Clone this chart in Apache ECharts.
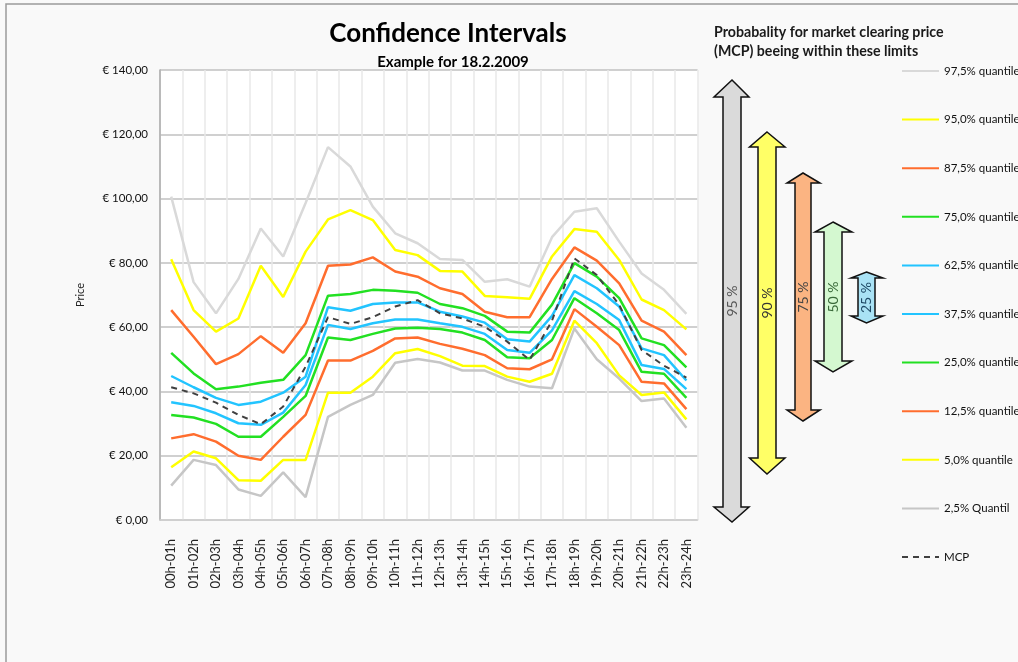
<!DOCTYPE html>
<html>
<head>
<meta charset="utf-8">
<script src="https://cdn.jsdelivr.net/npm/echarts@6/dist/echarts.min.js"></script>
<style>
html,body{margin:0;padding:0;background:#f9f9f9;}
#chart{width:1018px;height:662px;}
</style>
</head>
<body>
<div id="chart"></div>
<script>
// ---- data ----
const hours = ['00h-01h','01h-02h','02h-03h','03h-04h','04h-05h','05h-06h','06h-07h','07h-08h','08h-09h','09h-10h','10h-11h','11h-12h','12h-13h','13h-14h','14h-15h','15h-16h','16h-17h','17h-18h','18h-19h','19h-20h','20h-21h','21h-22h','22h-23h','23h-24h'];
const yTicks = [0, 20, 40, 60, 80, 100, 120, 140];
const q975 = [100.6, 74, 64.3, 75, 90.7, 82, 98.6, 116, 110, 97.5, 89.2, 86.1, 81.2, 80.9, 74.1, 74.9, 72.6, 88, 95.9, 97, 86.6, 76.7, 71.6, 64.1];
const q950 = [81.1, 65.3, 58.6, 62.7, 79.1, 69.4, 83.5, 93.5, 96.4, 93.3, 84, 82.4, 77.5, 77.3, 69.7, 69.3, 68.8, 82, 90.5, 89.7, 80.9, 68.6, 65.3, 59.3];
const q875 = [65.3, 57, 48.5, 51.6, 57.2, 52, 61.2, 79.1, 79.5, 81.7, 77.3, 75.7, 72.1, 70.3, 64.8, 63.1, 63.1, 75, 84.8, 80.7, 73.6, 62, 58.6, 51.3];
const q750 = [52, 45.6, 40.7, 41.5, 42.7, 43.6, 51.3, 69.8, 70.3, 71.6, 71.3, 70.7, 67.2, 65.9, 63.5, 58.6, 58.3, 67, 79.9, 75.7, 69, 56.5, 54.4, 47.5];
const q625 = [44.8, 41.3, 38, 35.8, 36.8, 39.6, 44.6, 66.2, 65.1, 67.2, 67.7, 67.7, 64.8, 63.3, 61.4, 56.2, 55.5, 63.5, 76.2, 72.1, 66.4, 53.4, 51.3, 43.4];
const q375 = [36.6, 35.5, 33.2, 30.1, 29.6, 33.4, 42, 60.7, 59.4, 61.2, 62.4, 62.4, 61.2, 60.1, 57.9, 52.9, 52, 59, 71.2, 67.2, 62.2, 48.2, 47, 40.7];
const q250 = [32.7, 31.9, 29.9, 25.9, 25.9, 32.1, 38.6, 56.8, 56, 57.9, 59.6, 59.8, 59.4, 58.3, 56, 50.6, 50.3, 56, 69, 64.3, 59.1, 46.1, 45.5, 38];
const q125 = [25.4, 26.7, 24.4, 20, 18.7, 25.9, 32.7, 49.6, 49.6, 52.6, 56.5, 56.8, 54.8, 53.3, 51.3, 47.2, 46.9, 50, 65.6, 60.1, 54.4, 43, 42.5, 34.5];
const q050 = [16.4, 21.3, 19.2, 12.4, 12.2, 18.7, 18.7, 39.6, 39.6, 44.6, 51.9, 53.2, 51, 48, 47.9, 44.6, 43, 45.5, 62, 55, 45, 38.9, 39.7, 31.3];
const q025 = [10.7, 18.7, 17.1, 9.5, 7.5, 14.8, 7.1, 32.1, 35.8, 38.9, 48.9, 50.1, 49, 46.5, 46.5, 43.6, 41.5, 41, 59.6, 50, 44, 37, 37.8, 28.7];
const mcp  = [41.3, 39.4, 36.5, 32.7, 29.8, 35.3, 47.7, 63.1, 61, 63.1, 66.4, 68.4, 64.3, 62.7, 60.1, 55.5, 49.8, 62, 81.4, 76.2, 66.9, 52.9, 48, 44.3];

const seriesNames = ['97,5% quantile','95,0% quantile','87,5% quantile','75,0% quantile','62,5% quantile','37,5% quantile','25,0% quantile','12,5% quantile','5,0% quantile','2,5% Quantil','MCP'];
const seriesData = [q975, q950, q875, q750, q625, q375, q250, q125, q050, q025, mcp];
const seriesColors = ['#d9d9d9','#ffff00','#ff6d2e','#22e022','#22c4ff','#22c4ff','#22e022','#ff6d2e','#ffff00','#c6c6c6','#404040'];

const arrowLabels = ['95 %','90 %','75 %','50 %','25 %'];

// ---- layout helpers (decoration) ----
const FONT = 'Lato, "Noto Sans", sans-serif';
function dblArrow(x0, x1, h0, h1, yT, yTb, yBb, yB, fill) {
  const cx = (x0 + x1) / 2;
  return {
    type: 'polygon',
    shape: { points: [[cx, yT],[h1, yTb],[x1, yTb],[x1, yBb],[h1, yBb],[cx, yB],[h0, yBb],[x0, yBb],[x0, yTb],[h0, yTb]] },
    style: { fill: fill, stroke: '#111', lineWidth: 1.5 },
    z: 10
  };
}
function vLabel(text, x, y, color) {
  return {
    type: 'text', x: x, y: y, rotation: Math.PI / 2, z: 11,
    style: { text: text, x: 0, y: 0, align: 'center', verticalAlign: 'middle', font: '14px ' + FONT, fill: color }
  };
}
const arrowDefs = [
  [723, 741, 714, 749, 80, 97, 507, 522, '#dadada', '#555'],
  [758, 776, 749.5, 785, 132, 147, 458, 474, '#ffff66', '#333'],
  [795, 811, 787, 820, 173, 183, 410, 421, '#fbb482', '#444'],
  [824, 842, 815, 852, 222, 232, 361, 372, '#d4f8d0', '#3a6a3a'],
  [858, 875, 851, 883, 272, 278, 316, 323, '#a9e2f5', '#1f4a66']
];
const graphics = [
  { type: 'rect', shape: { x: 6, y: 4, width: 1100, height: 700 }, style: { fill: 'none', stroke: '#9a9a9a', lineWidth: 1.5 }, z: 0, silent: true },
  { type: 'text', x: 714, y: 25, style: { text: 'Probabality for market clearing price', font: 'bold 14.2px ' + FONT, fill: '#1a1a1a' } },
  { type: 'text', x: 714, y: 44, style: { text: '(MCP) beeing within these limits', font: 'bold 14.2px ' + FONT, fill: '#1a1a1a' } }
];
arrowDefs.forEach((a, i) => {
  graphics.push(dblArrow(a[0], a[1], a[2], a[3], a[4], a[5], a[6], a[7], a[8]));
  graphics.push(vLabel(arrowLabels[i], (a[0] + a[1]) / 2, (a[4] + a[7]) / 2, a[9]));
});

const chart = echarts.init(document.getElementById('chart'), null, { renderer: 'canvas' });
chart.setOption({
  animation: false,
  backgroundColor: '#f9f9f9',
  title: [
    { text: 'Confidence Intervals', left: 443, top: 16, textAlign: 'center',
      textStyle: { fontFamily: FONT, fontSize: 26, fontWeight: 'bold', color: '#000' } },
    { text: 'Example for 18.2.2009', left: 448, top: 50, textAlign: 'center',
      textStyle: { fontFamily: FONT, fontSize: 15, fontWeight: 'bold', color: '#000' } }
  ],
  grid: { left: 160, right: 320.4, top: 70, bottom: 142, show: true, backgroundColor: '#ffffff', borderWidth: 0 },
  legend: {
    orient: 'vertical', left: 901, top: 65, padding: 0,
    itemWidth: 37, itemHeight: 14, itemGap: 36.6,
    data: seriesNames,
    itemStyle: { opacity: 0 },
    textStyle: { fontFamily: FONT, fontSize: 11.5, color: '#111' }
  },
  xAxis: {
    type: 'category', data: hours, boundaryGap: true,
    axisLine: { lineStyle: { color: '#d0d0d0', width: 1.5 } },
    axisTick: { show: false },
    splitLine: { show: true, lineStyle: { color: '#e8e8e8', width: 1.5 } },
    axisLabel: { rotate: 90, margin: 19, fontFamily: FONT, fontSize: 13, color: '#222', interval: 0 }
  },
  yAxis: {
    type: 'value', min: yTicks[0], max: yTicks[yTicks.length - 1], interval: yTicks[1] - yTicks[0],
    name: 'Price', nameLocation: 'middle', nameGap: 74, nameRotate: 90,
    nameTextStyle: { fontFamily: FONT, fontSize: 11, color: '#222' },
    axisLine: { show: true, lineStyle: { color: '#a8a8a8', width: 1.5 } },
    axisTick: { show: false },
    splitLine: { lineStyle: { color: '#c0c0c0', width: 1.5 } },
    axisLabel: {
      margin: 12, fontFamily: FONT, fontSize: 11.5, color: '#111',
      formatter: v => '€ ' + v.toFixed(2).replace('.', ',')
    }
  },
  series: seriesNames.map((n, i) => ({
    name: n, type: 'line', data: seriesData[i], symbol: 'none', smooth: false,
    z: i === 10 ? 5 : 2,
    itemStyle: { color: seriesColors[i] },
    lineStyle: i === 10 ? { color: seriesColors[i], width: 2, type: [6, 5] } : { color: seriesColors[i], width: 2.5 }
  })),
  graphic: graphics
});
</script>
</body>
</html>
